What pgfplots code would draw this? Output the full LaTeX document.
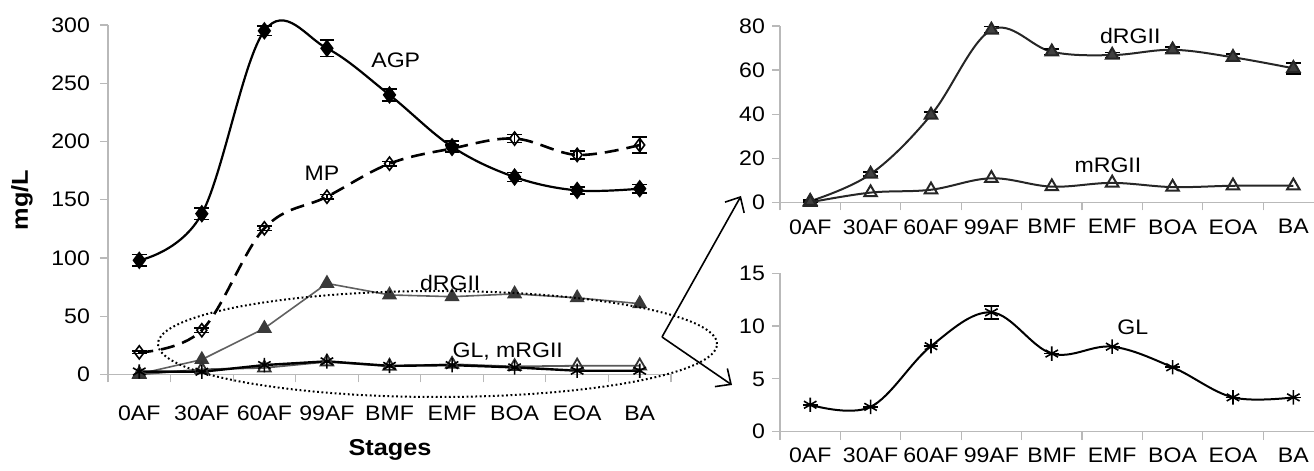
\documentclass[border=0pt]{standalone}
\usepackage{fontspec}
\setmainfont{Liberation Sans}[FakeStretch=1.1]
\usepackage{pgfplots}
\usepackage{pgfplotstable}
\pgfplotsset{compat=1.18}
\usetikzlibrary{arrows.meta}

% concentrations (mg/L) by stage: x = stage index, y = mean, e = error
\pgfplotstableread{
x y e
0 98 5
1 138 5
2 295 4
3 280 7
4 240 5
5 195.5 5
6 169.5 4
7 158 3
8 159.5 3.5
}\agp
\pgfplotstableread{
x y e
0 19 1
1 38 2
2 125.5 2
3 152.6 2
4 181 2
5 194 3
6 202.5 3.5
7 188.5 3.5
8 197 7
}\mp
\pgfplotstableread{
x y e
0 0.5 0.5
1 12.8 1
2 39.6 1.5
3 78.2 1.5
4 68.3 1.2
5 66.8 1.2
6 69.2 1.2
7 65.8 1.5
8 60.8 2.5
}\drg
\pgfplotstableread{
x y
0 0
1 4.4
2 5.7
3 10.9
4 7.1
5 8.8
6 6.9
7 7.5
8 7.5
}\mrg
\pgfplotstableread{
x y e
0 2.55 0
1 2.35 0
2 8.1 0
3 11.3 0.6
4 7.4 0
5 8.05 0
6 6.1 0
7 3.25 0
8 3.25 0
}\gl

\newcommand{\lbl}{\fontsize{10.5}{12}\selectfont}

\pgfplotsset{
  stageaxis/.style={
    scale only axis,
    axis lines=left,
    axis line style={-, draw=gray!55, line width=0.6pt},
    xmin=-0.5, xmax=8.5, ymin=0,
    xtick={-0.5,0.5,...,8.5},
    xticklabels={,,,,,,,,,,},
    extra x ticks={0,...,8},
    extra x tick labels={0AF,30AF,60AF,99AF,BMF,EMF,BOA,EOA,BA},
    extra x tick style={major tick length=0pt},
    tick align=outside,
    major tick length=4pt,
    tick style={draw=gray!55, line width=0.6pt},
    ticklabel style={font=\lbl},
    /pgf/number format/assume math mode=true,
    clip=false,
    error bars/error mark options={rotate=90, mark size=3.7pt, line width=0.8pt, black},
    error bars/error bar style={line width=0.8pt, black},
  },
}

\begin{document}
\begin{tikzpicture}
\useasboundingbox (0,0) rectangle (657pt,235.5pt);

% ---------- overview of all fractions ----------
\begin{axis}[stageaxis,
  at={(54pt,48.25pt)}, anchor=south west,
  width=281.5pt, height=174.75pt,
  ymax=300, ytick={0,50,...,300},
  xticklabel style={yshift=-12pt},
  yticklabel style={xshift=-1.5pt},
]
\addplot[black, line width=1.1pt, smooth, tension=0.6,
  mark=diamond*, mark size=3.6pt, mark options={solid, fill=black}]
  table[x=x, y=y] {\agp};
\addplot[draw=none, mark=none, forget plot,
  error bars/.cd, y dir=both, y explicit]
  table[x=x, y=y, y error=e] {\agp};
\addplot[black, line width=1.3pt, dash pattern=on 7pt off 4pt, smooth, tension=0.6,
  mark=diamond, mark size=3.3pt, mark options={solid, fill=white, line width=0.8pt},
  error bars/.cd, y dir=both, y explicit]
  table[x=x, y=y, y error=e] {\mp};
\addplot[gray!75!black, line width=0.8pt,
  mark=triangle*, mark size=3.6pt, mark options={solid, fill=gray!45!black, draw=gray!45!black}]
  table[x=x, y=y] {\drg};
\addplot[gray!70!black, line width=0.9pt,
  mark=triangle, mark size=3.6pt, mark options={solid, fill=white, draw=gray!40!black}]
  table[x=x, y=y] {\mrg};
\addplot[black, line width=1.2pt,
  mark=asterisk, mark size=3.6pt, mark options={solid, line width=0.8pt}]
  table[x=x, y=y] {\gl};
\node[font=\lbl] at (axis cs:4.1,270) {AGP};
\node[font=\lbl] at (axis cs:2.92,173) {MP};
\node[font=\lbl] at (axis cs:4.97,78.5) {dRGII};
\node[font=\lbl] at (axis cs:5.89,20) {GL, mRGII};
\end{axis}

% ---------- rhamnogalacturonan II ----------
\begin{axis}[stageaxis,
  at={(390pt,134.35pt)}, anchor=south west,
  width=271.8pt, height=88.15pt,
  ymax=80, ytick={0,20,...,80},
  xticklabel style={yshift=-5pt},
]
\addplot[black!85, line width=1pt, smooth, tension=0.6,
  mark=triangle*, mark size=3.6pt, mark options={solid, fill=black!75},
  error bars/.cd, y dir=both, y explicit]
  table[x=x, y=y, y error=e] {\drg};
\addplot[black!85, line width=1pt, smooth, tension=0.6,
  mark=triangle, mark size=3.6pt, mark options={solid, fill=white}]
  table[x=x, y=y] {\mrg};
\node[font=\lbl] at (axis cs:5.30,75.5) {dRGII};
\node[font=\lbl] at (axis cs:4.93,16.9) {mRGII};
\end{axis}

% ---------- glucans ----------
\begin{axis}[stageaxis,
  at={(390pt,19.65pt)}, anchor=south west,
  width=271.8pt, height=79.2pt,
  ymax=15, ytick={0,5,10,15},
  xticklabel style={yshift=-4.5pt},
]
\addplot[black, line width=1pt, smooth, tension=0.6,
  mark=asterisk, mark size=3.6pt, mark options={solid, line width=0.8pt},
  error bars/.cd, y dir=both, y explicit]
  table[x=x, y=y, y error=e] {\gl};
\node[font=\lbl] at (axis cs:5.34,9.9) {GL};
\end{axis}

% axis titles
\node[rotate=90, font=\fontsize{11.5}{13}\selectfont\bfseries] at (11pt,135.5pt) {mg/L};
\node[font=\fontsize{11.5}{13}\selectfont\bfseries] at (195pt,10.5pt) {Stages};

% zoomed region and pointers
\draw[line width=1pt, dash pattern=on 0.9pt off 1.3pt]
  (218.75pt,63.5pt) ellipse [x radius=139.75pt, y radius=26.5pt];
\draw[line width=0.8pt, -{Straight Barb[length=6pt, width=11pt]}]
  (331pt,67pt) -- (370.5pt,137.5pt);
\draw[line width=0.8pt, -{Straight Barb[length=6pt, width=11pt]}]
  (331pt,67pt) -- (366pt,43pt);
\end{tikzpicture}
\end{document}
